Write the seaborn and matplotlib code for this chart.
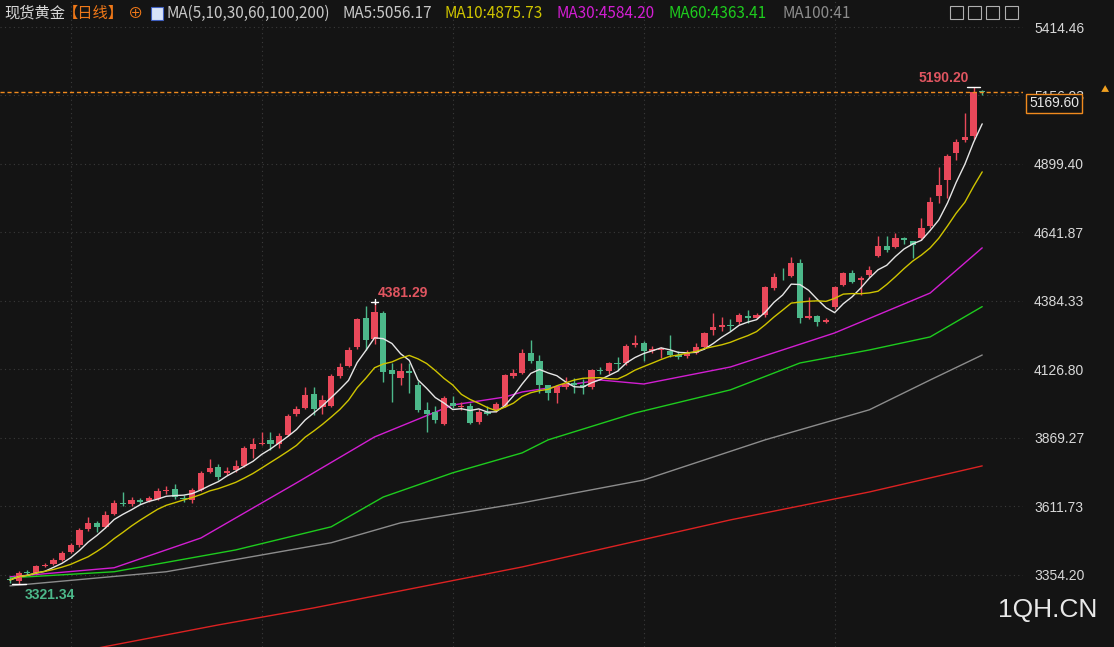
import matplotlib
matplotlib.use("Agg")
from matplotlib import pyplot as plt
from matplotlib.patches import Rectangle
import numpy as np
import pandas as pd
import seaborn as sns

# daily candles (open, high, low, close)
opens = [3340, 3332, 3365, 3362, 3386, 3395, 3410, 3440, 3465, 3525, 3549, 3535, 3582, 3624, 3622, 3637, 3632, 3640,
         3668, 3678, 3645, 3636, 3672, 3742, 3758, 3738, 3748, 3762, 3828, 3848, 3862, 3848, 3880, 3960, 3980, 4036,
         3985, 3990, 4102, 4140, 4210, 4322, 4240, 4340, 4125, 4095, 4122, 4068, 3975, 3965, 3922, 4000, 3985, 3990,
         3928, 3968, 3975, 3990, 4102, 4115, 4188, 4160, 4068, 4040, 4062, 4075, 4068, 4060, 4125, 4120, 4150, 4150,
         4218, 4225, 4195, 4198, 4195, 4182, 4178, 4190, 4210, 4275, 4285, 4295, 4305, 4328, 4320, 4330, 4432, 4472,
         4478, 4528, 4320, 4328, 4305, 4360, 4445, 4490, 4462, 4482, 4552, 4590, 4588, 4620, 4610, 4622, 4665, 4780,
         4840, 4940, 4990, 5003, 5172]
highs = [3345, 3368, 3372, 3392, 3398, 3418, 3445, 3475, 3530, 3570, 3555, 3595, 3635, 3665, 3648, 3642, 3652, 3680,
         3690, 3695, 3655, 3680, 3745, 3790, 3770, 3760, 3785, 3840, 3870, 3890, 3890, 3888, 3958, 3990, 4060, 4060,
         4030, 4110, 4150, 4212, 4320, 4365, 4381.29, 4345, 4150, 4150, 4150, 4085, 4005, 3990, 4028, 4025, 4005, 4000,
         3978, 3990, 4005, 4110, 4128, 4205, 4238, 4180, 4070, 4070, 4100, 4095, 4090, 4130, 4135, 4155, 4175, 4222,
         4255, 4232, 4215, 4212, 4257, 4195, 4200, 4225, 4268, 4340, 4325, 4315, 4338, 4350, 4340, 4440, 4490, 4510,
         4548, 4542, 4400, 4330, 4320, 4442, 4495, 4500, 4480, 4515, 4628, 4630, 4640, 4625, 4605, 4698, 4775, 4888,
         4938, 4995, 5092, 5190.20, 5178]
lows = [3325, 3321.34, 3355, 3358, 3382, 3390, 3405, 3435, 3460, 3520, 3515, 3530, 3578, 3612, 3615, 3622, 3628, 3635,
        3660, 3640, 3630, 3625, 3668, 3738, 3710, 3730, 3742, 3758, 3795, 3842, 3825, 3832, 3875, 3950, 3978, 3955,
        3960, 3985, 4095, 4135, 4205, 4200, 4222, 4080, 4005, 4070, 4040, 3965, 3890, 3925, 3918, 3980, 3975, 3920,
        3922, 3955, 3968, 3985, 4095, 4110, 4150, 4040, 4010, 4000, 4055, 4040, 4035, 4055, 4108, 4110, 4120, 4145,
        4210, 4160, 4188, 4170, 4175, 4165, 4170, 4185, 4205, 4255, 4270, 4270, 4298, 4300, 4318, 4325, 4425, 4462,
        4475, 4300, 4318, 4290, 4300, 4355, 4440, 4450, 4407, 4475, 4548, 4570, 4582, 4600, 4546, 4615, 4660, 4752,
        4771, 4915, 4982, 4995, 5160]
closes = [3335, 3360, 3362, 3388, 3392, 3410, 3437, 3467, 3523, 3549, 3535, 3580, 3625, 3620, 3635, 3630, 3642, 3668,
          3674, 3648, 3638, 3672, 3737, 3755, 3722, 3745, 3762, 3830, 3848, 3852, 3845, 3878, 3950, 3978, 4032, 3978,
          4012, 4103, 4135, 4200, 4315, 4237, 4342, 4118, 4110, 4122, 4112, 3975, 3960, 3935, 4020, 3990, 3990, 3926,
          3966, 3960, 3995, 4105, 4112, 4188, 4160, 4068, 4040, 4060, 4072, 4068, 4060, 4123, 4120, 4150, 4148, 4215,
          4225, 4195, 4202, 4202, 4180, 4175, 4188, 4210, 4262, 4285, 4295, 4290, 4332, 4322, 4330, 4435, 4475, 4470,
          4528, 4322, 4328, 4305, 4312, 4435, 4490, 4455, 4470, 4500, 4592, 4575, 4620, 4612, 4595, 4660, 4758, 4820,
          4930, 4982, 5000, 5170, 5169.6]

# long moving averages at these candle indices
ma30_idx = [0, 12, 22, 33, 42, 51, 57, 59, 68, 73, 83, 95, 106, 112]
ma30_val = [3347, 3381, 3493, 3700, 3873, 3993, 4023, 4042, 4087, 4072, 4136, 4264, 4414, 4584]
ma60_idx = [0, 12, 26, 37, 43, 51, 59, 62, 72, 83, 91, 99, 106, 112]
ma60_val = [3343, 3366, 3448, 3535, 3647, 3738, 3813, 3862, 3963, 4050, 4151, 4200, 4249, 4363]
ma100_idx = [0, 18, 37, 45, 59, 73, 87, 99, 106, 112]
ma100_val = [3313, 3366, 3475, 3550, 3625, 3711, 3862, 3975, 4087, 4181]
ma200_idx = [0, 24, 35, 59, 83, 99, 112]
ma200_val = [3016, 3166, 3230, 3384, 3561, 3666, 3764]

y_ticks = [3354.20, 3611.73, 3869.27, 4126.80, 4384.33, 4641.87, 4899.40, 5156.93, 5414.46]
last_price = 5169.60

BG = "#141414"
UP = "#e9485a"
DOWN = "#4cb88a"

sns.set_theme(style="dark")
plt.rcParams['font.family'] = ['Noto Sans CJK SC', 'DejaVu Sans']

fig = plt.figure(figsize=(11.14, 6.47), dpi=100, facecolor=BG)
ax = fig.add_axes([0, 0, 1023 / 1114, 1])
ax.set_facecolor(BG)
for s in ax.spines.values():
    s.set_visible(False)

df = pd.DataFrame({"open": opens, "high": highs, "low": lows, "close": closes})
df["i"] = np.arange(len(df))
df["ma5"] = df["close"].rolling(5, min_periods=1).mean()
df["ma10"] = df["close"].rolling(10, min_periods=1).mean()

up = df["close"] >= df["open"]
colors = np.where(up, UP, DOWN)
ax.vlines(df["i"], df["low"], df["high"], colors=colors, linewidth=1, zorder=3)
body_bottom = df[["open", "close"]].min(axis=1)
body_h = (df["close"] - df["open"]).abs().clip(lower=2)
ax.bar(df["i"], body_h, bottom=body_bottom, width=0.72, color=colors, linewidth=0, zorder=4)

sns.lineplot(x=df["i"], y=df["ma5"], ax=ax, color="#e6e6e6", linewidth=1, zorder=5)
sns.lineplot(x=df["i"], y=df["ma10"], ax=ax, color="#cfc400", linewidth=1, zorder=5)
sns.lineplot(x=ma30_idx, y=ma30_val, ax=ax, color="#d21ed2", linewidth=1, zorder=2)
sns.lineplot(x=ma60_idx, y=ma60_val, ax=ax, color="#1ecb1e", linewidth=1, zorder=2)
sns.lineplot(x=ma100_idx, y=ma100_val, ax=ax, color="#8c8c8c", linewidth=1, zorder=2)
sns.lineplot(x=ma200_idx, y=ma200_val, ax=ax, color="#dc2222", linewidth=1, zorder=2)

ax.set_xlim(-1.15, 116.7)
ax.set_ylim(3083, 5516)
ax.set_xlabel("")
ax.set_ylabel("")

# grid
ax.set_xticks([7, 29, 51, 73, 95])
ax.set_xticklabels([])
ax.set_yticks(y_ticks)
ax.set_yticklabels([f"{v:.2f}" for v in y_ticks])
ax.grid(True, color="#3a3a3a", linestyle=(0, (1, 3)), linewidth=0.8)
ax.yaxis.tick_right()
ax.tick_params(axis="y", length=0, pad=8, labelsize=10, labelcolor="#d8d8d8")
ax.tick_params(axis="x", length=0)
for lbl in ax.get_yticklabels():
    lbl.set_family(['Liberation Sans', 'DejaVu Sans'])

# last price line and box
ax.axhline(last_price, color="#f08a1e", linestyle=(0, (3, 2)), linewidth=1, zorder=6)
ax.text(1.006, last_price - 16, f"{last_price:.2f}", transform=ax.get_yaxis_transform(), clip_on=False,
        ha="left", va="top", fontsize=10, color="#e8e8e8", family=['Liberation Sans'],
        bbox=dict(boxstyle="square,pad=0.2", facecolor=BG, edgecolor="#f08a1e", linewidth=1), zorder=10)
fig.text(1105 / 1114, 1 - 90 / 647, "▲", color="#f0a020", fontsize=6, ha="center", va="center")

# high/low annotations
ax.plot([41.6, 42.4], [4381.29, 4381.29], color="white", linewidth=1, zorder=6)
ax.plot([42, 42], [4372, 4390], color="white", linewidth=1, zorder=6)
ax.text(42.4, 4414, "4381.29", color="#e05560", fontsize=10, fontweight="bold", ha="left", va="center",
        family=['Liberation Sans'])
ax.plot([110.2, 111.7], [5190.2, 5190.2], color="white", linewidth=1, zorder=6)
ax.text(110.5, 5222, "5190.20", color="#e05560", fontsize=10, fontweight="bold", ha="right", va="center",
        family=['Liberation Sans'])
ax.plot([0.2, 1.8], [3321.34, 3321.34], color="white", linewidth=1, zorder=6)
ax.text(1.7, 3279, "3321.34", color="#4cb88a", fontsize=10, fontweight="bold", ha="left", va="center",
        family=['Liberation Sans'])

# header
H = 1 - 13 / 647
def head(x, s, c, **kw):
    fig.text(x / 1114, H, s, color=c, fontsize=11, ha="left", va="center", **kw)

head(4, "现货黄金", "#d8d8d8")
head(63, "【日线】", "#f07818")
head(127, "⊕", "#f07818")
fig.patches.append(Rectangle((151 / 1114, 1 - 20 / 647), 12 / 1114, 13 / 647, transform=fig.transFigure,
                             facecolor="#d8e4f8", edgecolor="#4060c0", linewidth=0.8))
head(167, "MA(5,10,30,60,100,200)", "#c8c8c8")
head(342, "MA5:5056.17", "#c8c8c8")
head(445, "MA10:4875.73", "#cfc400")
head(557, "MA30:4584.20", "#d21ed2")
head(669, "MA60:4363.41", "#1ecb1e")
head(782, "MA100:41", "#8c8c8c")
for x0 in [950, 968, 986, 1005]:
    fig.patches.append(Rectangle((x0 / 1114, 1 - 19 / 647), 13 / 1114, 13 / 647, transform=fig.transFigure,
                                 facecolor="none", edgecolor="#b0b0b0", linewidth=0.8))

fig.text(1097 / 1114, 1 - 610 / 647, "1QH.CN", color="#e8e8e8", fontsize=19, ha="right", va="center",
         family=['Liberation Sans'])

fig.savefig("out.png", dpi=100, facecolor=BG)
